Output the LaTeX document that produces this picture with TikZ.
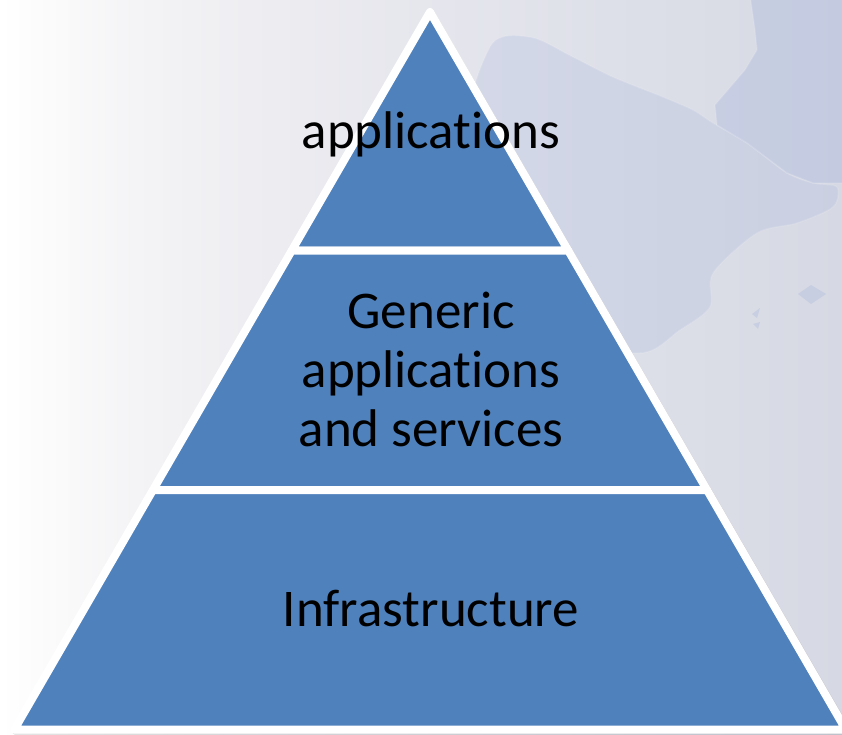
\documentclass[tikz,border=0pt]{standalone}
\usepackage{fontspec}
\setmainfont[Ligatures=NoCommon]{Carlito}
\usetikzlibrary{positioning}

\definecolor{tierblue}{RGB}{79,129,189}
\definecolor{seablue}{RGB}{176,188,222}
\definecolor{bgA}{RGB}{244,244,246}
\definecolor{bgB}{RGB}{235,235,240}
\definecolor{bgC}{RGB}{222,224,233}
\definecolor{bgD}{RGB}{214,217,227}
\pgfdeclarehorizontalshading{slidebg}{100bp}{
	color(0bp)=(white);
	color(25bp)=(white);
	color(33bp)=(bgA);
	color(43bp)=(bgB);
	color(61bp)=(bgC);
	color(75bp)=(bgD);
	color(100bp)=(bgD)}
\tikzset{
	tier/.style={fill=tierblue, draw=white, line width=8pt, line join=round},
	tiershadow/.style={draw=black, opacity=0.10, line width=8pt, line join=round},
	tiertext/.style={font=\fontsize{53}{59}\selectfont, align=center, text=black, inner sep=0pt},
	mappatch/.style={fill=seablue, fill opacity=0.3, draw=white, draw opacity=0.12, line width=1.5pt},
	seapatch/.style={fill=seablue, fill opacity=0.45, draw=white, draw opacity=0.12, line width=1.5pt},
	islet/.style={fill=seablue, fill opacity=0.4}
}

\begin{document}
\begin{tikzpicture}[x=1pt,y=-1pt]
\useasboundingbox (0,0) rectangle (842,734);
\clip (0,0) rectangle (842,734);

% background and map
\shade[shading=slidebg] (0,0) rectangle (842,734);
\path[mappatch] plot[smooth cycle] coordinates {(490,47) (530,37) (573,57) (613,77) (663,97) (693,110) (713,123) (747,143) (787,173) (813,183) (837,187) (833,207) (797,223) (757,233) (713,273) (710,307) (680,330) (640,353) (560,330) (470,150)};
\path[seapatch] (750,-5) -- (755,30) -- (757,50) -- (745,70) -- (715,105) -- (717,125) -- (747,143) -- (787,173) -- (813,183) -- (850,183) -- (850,-5) -- cycle;
\fill[islet] (798,294) -- (811,285) -- (826,294) -- (811,304) -- cycle;
\fill[islet] (752,314) -- (760,308) -- (757,318) -- cycle;
\fill[islet] (753,324) -- (760,322) -- (758,329) -- cycle;

% soft edge of the pyramid
\draw[tiershadow] (431,14) -- (847,731) -- (16,731) -- cycle;

% the three tiers
\draw[tier] (430,12) -- (568.2,250.5) -- (291.8,250.5) -- cycle;
\draw[tier] (291.8,250.5) -- (568.2,250.5) -- (707,490) -- (153,490) -- cycle;
\draw[tier] (153,490) -- (707,490) -- (845.7,729.5) -- (14.3,729.5) -- cycle;

% labels
\node[tiertext] (apps) at (431,134) {applications};
\node[tiertext] (generic) at (431,369) {Generic\\applications\\and services};
\node[tiertext] (infra) at (431,609) {Infrastructure};
\end{tikzpicture}
\end{document}
